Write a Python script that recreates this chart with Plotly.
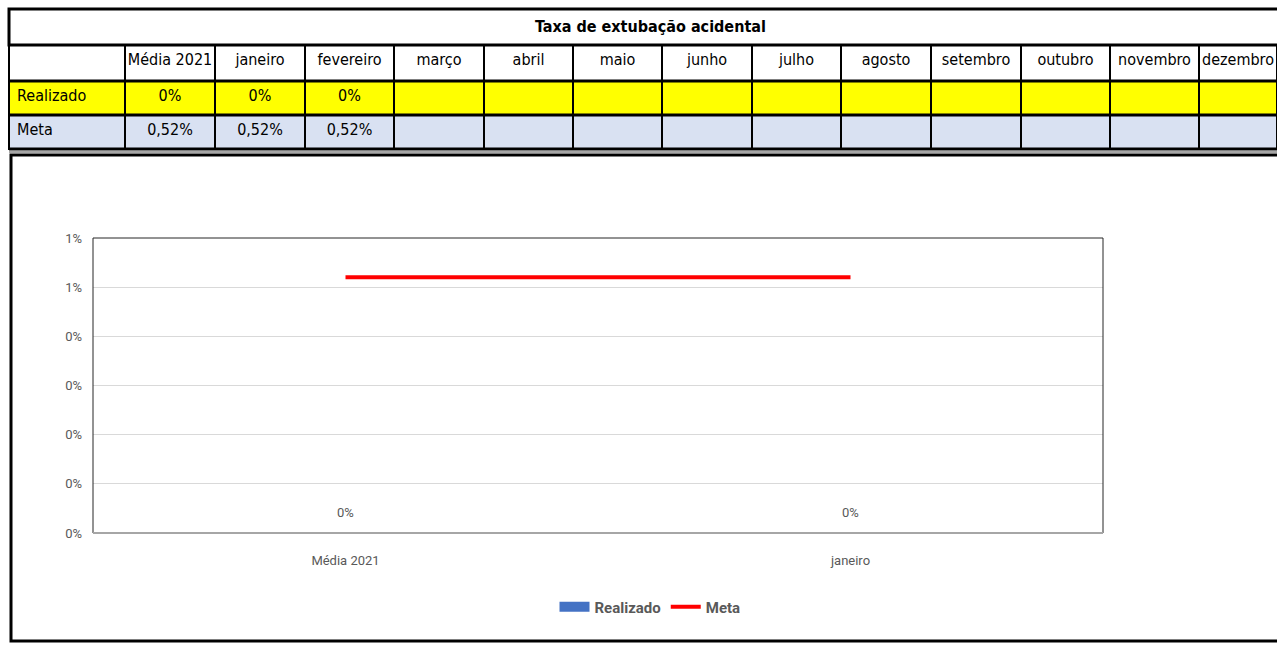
import plotly.graph_objects as go

# ---------------- data ----------------
title = "Taxa de extubação acidental"
table_columns = ["", "Média\u00a02021", "janeiro", "fevereiro", "março", "abril", "maio",
                 "junho", "julho", "agosto", "setembro", "outubro", "novembro", "dezembro"]
row_labels = ["Realizado", "Meta"]
realizado_table = [0.0, 0.0, 0.0, None, None, None, None, None, None, None, None, None, None]
meta_table = [0.0052, 0.0052, 0.0052, None, None, None, None, None, None, None, None, None, None]

categories = ["Média 2021", "janeiro"]
realizado = [0.0, 0.0]
meta = [0.0052, 0.0052]

# ---------------- layout constants ----------------
W, H = 1277, 649
FONT = "'DejaVu Sans Condensed', Roboto, sans-serif"
CFONT = "Roboto, sans-serif"
GRAY = "#595959"
BLUE = "#4472C4"

def py(px):
    return 1 - px / H

def px_x(px):
    return px / W

def fmt_pct0(v):
    return "" if v is None else f"{v:.0%}"

def fmt_pct2(v):
    return "" if v is None else f"{v * 100:.2f}%".replace(".", ",")

col_widths = [116, 90, 90, 89, 90, 89, 89, 90, 89, 90, 90, 89, 89, 78]

cell_values = [row_labels] + [[fmt_pct0(r), fmt_pct2(m)] for r, m in zip(realizado_table, meta_table)]

fig = go.Figure()

fig.add_trace(go.Table(
    domain=dict(x=[px_x(9), 1], y=[py(158), py(45)]),
    columnwidth=col_widths,
    header=dict(values=table_columns, height=36, fill_color="white",
                line=dict(color="black", width=2), align="center",
                font=dict(family=FONT, size=16, color="black")),
    cells=dict(values=cell_values, height=34,
               fill_color=[["#FFFF00", "#D9E1F2"]],
               line=dict(color="black", width=2),
               align=["left"] + ["center"] * (len(table_columns) - 1),
               font=dict(family=FONT, size=16, color="black")),
))

fig.add_trace(go.Bar(x=categories, y=realizado, name="Realizado",
                     marker_color=BLUE, showlegend=False, legendgroup="real"))
# legend entry for the bar series (wide rectangle swatch as in the original)
fig.add_trace(go.Scatter(x=[None], y=[None], name="Realizado", mode="lines",
                         line=dict(color=BLUE, width=10), legendgroup="real",
                         hoverinfo="skip"))
fig.add_trace(go.Scatter(x=categories, y=meta, name="Meta", mode="lines",
                         line=dict(color="#FF0000", width=4)))

for c, v in zip(categories, realizado):
    fig.add_annotation(x=c, y=v, xref="x", yref="y", text=fmt_pct0(v),
                       showarrow=False, yshift=21,
                       font=dict(family=CFONT, size=13, color=GRAY))

# title annotation
fig.add_annotation(x=px_x(650), y=py(27), xref="paper", yref="paper",
                   xanchor="center", yanchor="middle",
                   text=f"<b>{title}</b>", showarrow=False,
                   font=dict(family=FONT, size=16, color="black"))

shapes = [
    # title cell border
    dict(type="rect", xref="paper", yref="paper", x0=px_x(9), x1=1.02, y0=py(45), y1=py(9),
         line=dict(color="black", width=3)),
    # light separator under table
    dict(type="line", xref="paper", yref="paper", x0=px_x(9), x1=1.02, y0=py(152), y1=py(152),
         line=dict(color="#A6A6A6", width=2)),
    # chart box
    dict(type="rect", xref="paper", yref="paper", x0=px_x(11), x1=1.02, y0=py(641), y1=py(155),
         line=dict(color="black", width=3)),
    # plot area frame
    dict(type="rect", xref="x domain", yref="y domain", x0=0, x1=1, y0=0, y1=1,
         line=dict(color="#262626", width=1)),
    dict(type="line", xref="x domain", yref="y domain", x0=0, x1=1, y0=0, y1=0,
         line=dict(color="#A6A6A6", width=2)),
]
# thicker horizontal rules between table rows
for yy in (81, 115, 149):
    shapes.append(dict(type="line", xref="paper", yref="paper", x0=px_x(9), x1=1.02,
                       y0=py(yy), y1=py(yy), line=dict(color="black", width=3)))

fig.update_layout(
    width=W, height=H,
    margin=dict(l=0, r=0, t=0, b=0, autoexpand=False),
    paper_bgcolor="white", plot_bgcolor="white",
    font=dict(family=CFONT, color=GRAY),
    shapes=shapes,
    showlegend=True,
    legend=dict(orientation="h", x=px_x(650), y=py(607), xanchor="center", yanchor="middle",
                font=dict(family=CFONT, size=15, color=GRAY, weight="bold"),
                itemwidth=30, tracegroupgap=0,
                bgcolor="rgba(0,0,0,0)"),
    xaxis=dict(domain=[px_x(93), px_x(1103)], showgrid=False, zeroline=False,
               showline=False, automargin=False,
               tickfont=dict(family=CFONT, size=13, color=GRAY),
               ticklabelstandoff=18),
    yaxis=dict(domain=[py(533), py(238)], range=[0, 0.006], dtick=0.001,
               tickformat=".0%", gridcolor="#D9D9D9", zeroline=False, showline=False,
               automargin=False,
               tickfont=dict(family=CFONT, size=13, color=GRAY), ticklabelstandoff=10),
)

fig.write_html("out.html")
